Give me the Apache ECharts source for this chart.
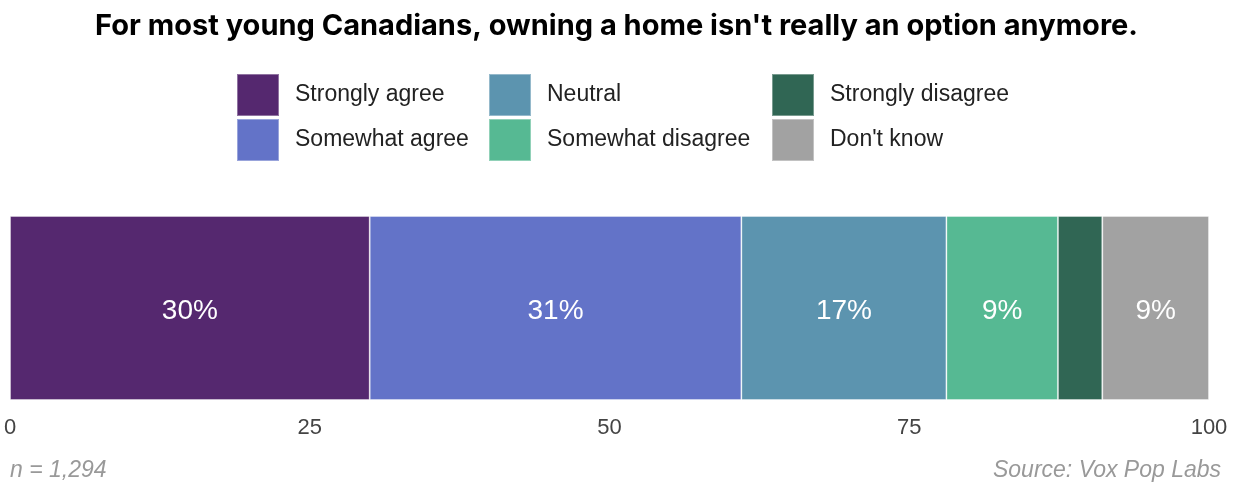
<!DOCTYPE html>
<html>
<head>
<meta charset="utf-8">
<script src="https://cdn.jsdelivr.net/npm/echarts@6/dist/echarts.min.js"></script>
<style>
html,body{margin:0;padding:0;background:#fff;}
#chart{width:1233px;height:483px;}
</style>
</head>
<body>
<div id="chart"></div>
<script>
var categories = ['Response'];
var seriesNames = ['Strongly agree', 'Somewhat agree', 'Neutral', 'Somewhat disagree', 'Strongly disagree', "Don't know"];
var stronglyAgree = [30.0];
var somewhatAgree = [31.0];
var neutral = [17.1];
var somewhatDisagree = [9.3];
var stronglyDisagree = [3.7];
var dontKnow = [8.9];
var xTicks = [0, 25, 50, 75, 100];
var colors = ['#55286F', '#6373C8', '#5C94AF', '#56B993', '#306654', '#A2A2A2'];

var values = [stronglyAgree, somewhatAgree, neutral, somewhatDisagree, stronglyDisagree, dontKnow];

var legendPos = [
  {left: 236, top: 73}, {left: 236, top: 118},
  {left: 488, top: 73}, {left: 488, top: 118},
  {left: 771, top: 73}, {left: 771, top: 118}
];

var chart = echarts.init(document.getElementById('chart'), null, {renderer: 'canvas'});

var option = {
  animation: false,
  title: {
    text: "For most young Canadians, owning a home isn't really an option anymore.",
    left: 'center',
    top: 7,
    textStyle: {fontFamily: 'Inter', fontWeight: 700, fontSize: 29, color: '#000'}
  },
  legend: seriesNames.map(function (name, i) {
    return {
      data: [name],
      left: legendPos[i].left,
      top: legendPos[i].top,
      icon: 'rect',
      itemWidth: 42,
      itemHeight: 42,
      padding: 0,
      selectedMode: false,
      textStyle: {fontFamily: 'Liberation Sans', fontSize: 23, color: '#222', padding: [0, 0, 0, 11]}
    };
  }),
  grid: {left: 10, right: 24, top: 216, bottom: 83, containLabel: false},
  xAxis: {
    type: 'value',
    min: 0, max: 100, interval: 25,
    axisLine: {show: false},
    axisTick: {show: false},
    splitLine: {show: false},
    axisLabel: {
      fontFamily: 'Liberation Sans', fontSize: 22, color: '#444', margin: 17,
      formatter: function (v) { return xTicks.indexOf(v) >= 0 ? String(v) : ''; }
    }
  },
  yAxis: {
    type: 'category',
    data: categories,
    show: false
  },
  series: seriesNames.map(function (name, i) {
    return {
      name: name,
      type: 'bar',
      stack: 'total',
      barCategoryGap: 0,
      barWidth: '100%',
      data: values[i],
      itemStyle: {color: colors[i], borderColor: 'rgba(255,255,255,0.35)', borderWidth: 1},
      label: {
        show: true,
        position: 'inside',
        offset: [0, 3],
        fontFamily: 'Liberation Sans',
        fontSize: 28,
        color: '#fff',
        formatter: function (p) { return p.value < 5 ? '' : Math.round(p.value) + '%'; }
      }
    };
  }),
  graphic: [
    {type: 'text', left: 10, top: 459, style: {text: 'n = 1,294', font: 'italic 23px "Liberation Sans"', fill: '#999'}},
    {type: 'text', right: 12, top: 459, style: {text: 'Source: Vox Pop Labs', font: 'italic 23px "Liberation Sans"', fill: '#999', textAlign: 'right'}}
  ]
};
chart.setOption(option);
</script>
</body>
</html>
